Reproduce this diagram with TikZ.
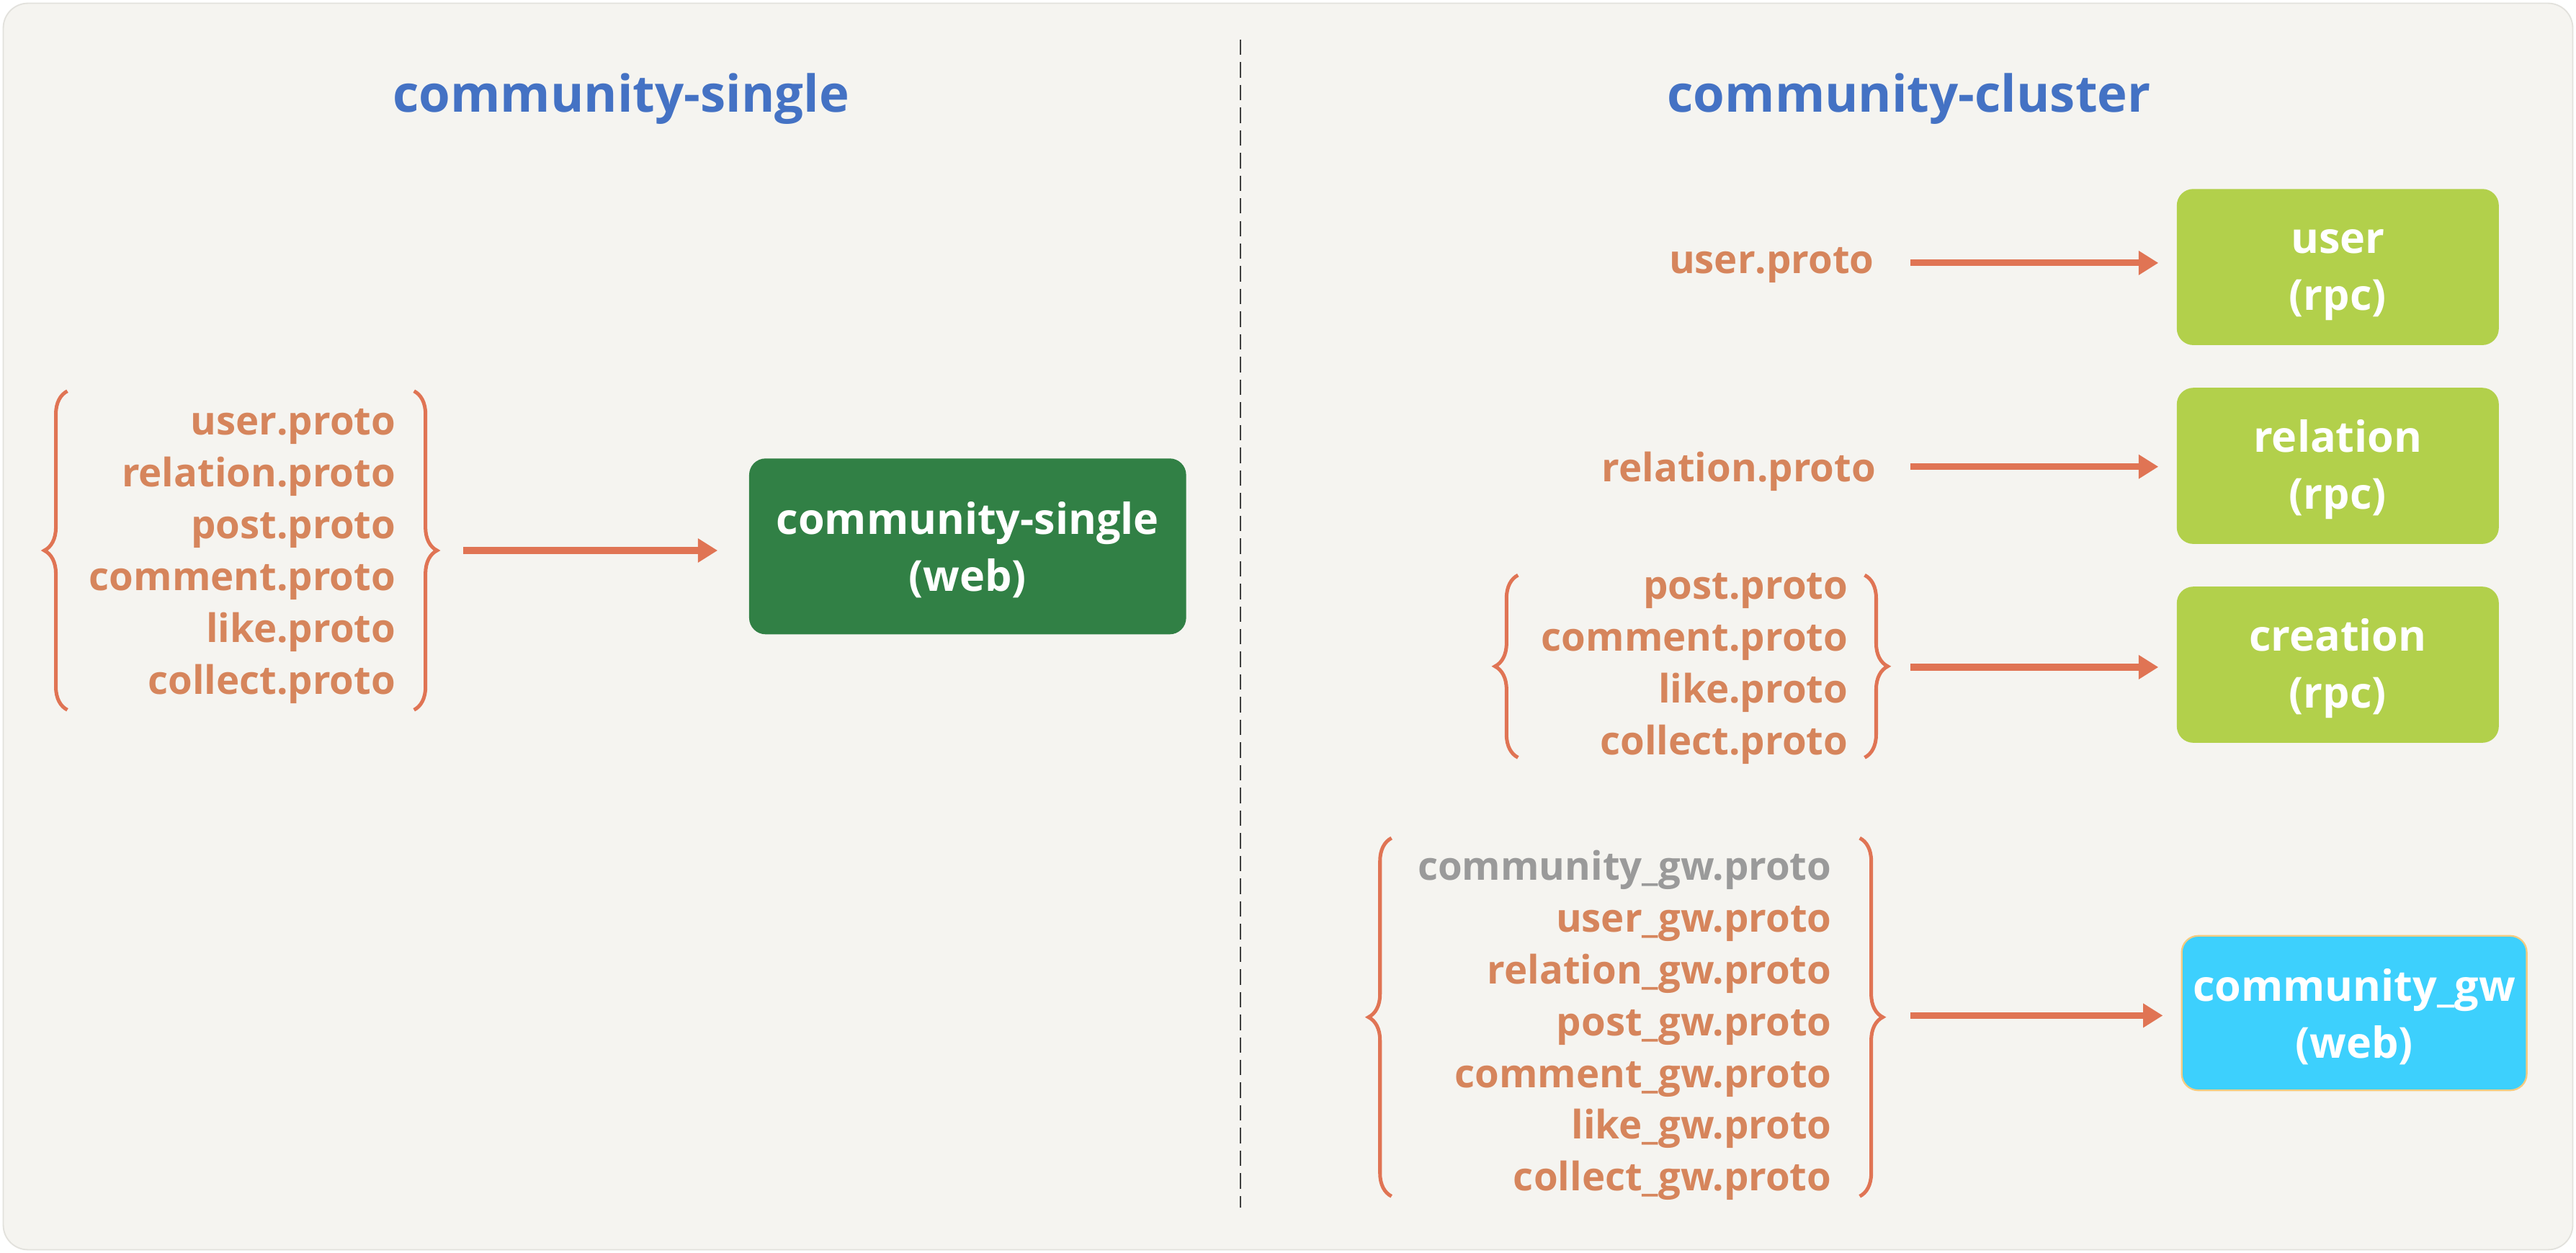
\documentclass[tikz,border=0pt]{standalone}
\usepackage{fontspec}
\setmainfont{Open Sans}
\usetikzlibrary{arrows.meta,decorations.pathreplacing}
\definecolor{bg}{HTML}{F5F4F0}
\definecolor{bgline}{HTML}{E2E1DC}
\definecolor{ttl}{HTML}{4472C4}
\definecolor{txt}{HTML}{D6855C}
\definecolor{arrc}{HTML}{E07454}
\definecolor{dgreen}{HTML}{318045}
\definecolor{lime}{HTML}{B2D04B}
\definecolor{cyanbox}{HTML}{3DD0FD}
\definecolor{cyanline}{HTML}{F5CB80}
\definecolor{graytxt}{HTML}{9A9A9A}
\definecolor{dash}{HTML}{404040}
\newcommand{\topstrut}{\rule{0pt}{24pt}}
\begin{document}
\begin{tikzpicture}[x=1pt,y=-1pt,
  title/.style={font=\fontsize{31}{36}\selectfont\bfseries, text=ttl, inner sep=0pt},
  list/.style={font=\fontsize{23.9}{31.5}\selectfont\bfseries, text=txt, align=right, inner sep=0pt},
  box/.style={rounded corners=10pt, font=\fontsize{26}{34.5}\selectfont\bfseries, text=white, align=center, inner sep=0pt},
  arr/.style={draw=arrc, line width=4pt, -{Triangle[length=12pt,width=14pt]}},
  br/.style={draw=arrc, line width=2.2pt, decorate, decoration={brace, amplitude=14pt}},
  sep/.style={draw=dash, line width=0.9pt, dash pattern=on 9.4pt off 4.4pt}
]
\useasboundingbox (0,0) rectangle (1568,762.5);
\fill[white] (0,0) rectangle (1568,762.5);
\draw[fill=bg, draw=bgline, line width=0.8pt, rounded corners=15pt] (2,2) rectangle (1566,760.5);

% titles
\node[title] (t1) at (378,60) {community-single};
\node[title] (t2) at (1162,60) {community-cluster};

% divider
\coordinate (d1) at (755,24);
\coordinate (d2) at (755,735);
\draw[sep] (d1) -- (d2);

% left group
\node[list, anchor=east] (g1) at (241,338.5) {user.proto\\relation.proto\\post.proto\\comment.proto\\like.proto\\collect.proto};
\draw[br] (41,432) -- (41,238);
\draw[br] (252,238) -- (252,432);
\node[box, fill=dgreen, minimum width=266pt, minimum height=107pt] (b1) at (589,332.5) {\topstrut community-single\\(web)};
\coordinate (a1) at (282,335);
\draw[arr, shorten >=19pt] (a1) -- (a1 -| b1.west);

% right side
\node[list, anchor=east] (u) at (1141,161.5) {user.proto};
\node[list, anchor=east] (r) at (1142,287) {relation.proto};
\node[list, anchor=east] (g3) at (1125,407) {post.proto\\comment.proto\\like.proto\\collect.proto};
\draw[br] (924,461) -- (924,350);
\draw[br] (1135,350) -- (1135,461);
\node[list, anchor=east] (g4) at (1115,624) {\textcolor{graytxt}{community\_gw.proto}\\user\_gw.proto\\relation\_gw.proto\\post\_gw.proto\\comment\_gw.proto\\like\_gw.proto\\collect\_gw.proto};
\draw[br] (847,728) -- (847,510);
\draw[br] (1132,510) -- (1132,728);

\node[box, fill=lime, minimum width=196pt, minimum height=95pt] (b2) at (1423,162.5) {\topstrut user\\(rpc)};
\node[box, fill=lime, minimum width=196pt, minimum height=95pt] (b3) at (1423,283.5) {\topstrut relation\\(rpc)};
\node[box, fill=lime, minimum width=196pt, minimum height=95pt] (b4) at (1423,404.5) {\topstrut creation\\(rpc)};
\node[box, fill=cyanbox, draw=cyanline, line width=1pt, minimum width=210pt, minimum height=94pt] (b5) at (1433,616.5) {\topstrut community\_gw\\(web)};

\coordinate (a2) at (1163,160);
\coordinate (a3) at (1163,284);
\coordinate (a4) at (1163,406);
\coordinate (a5) at (1163,618);
\draw[arr, shorten >=11pt] (a2) -- (a2 -| b2.west);
\draw[arr, shorten >=11pt] (a3) -- (a3 -| b3.west);
\draw[arr, shorten >=11pt] (a4) -- (a4 -| b4.west);
\draw[arr, shorten >=11pt] (a5) -- (a5 -| b5.west);
\end{tikzpicture}
\end{document}
